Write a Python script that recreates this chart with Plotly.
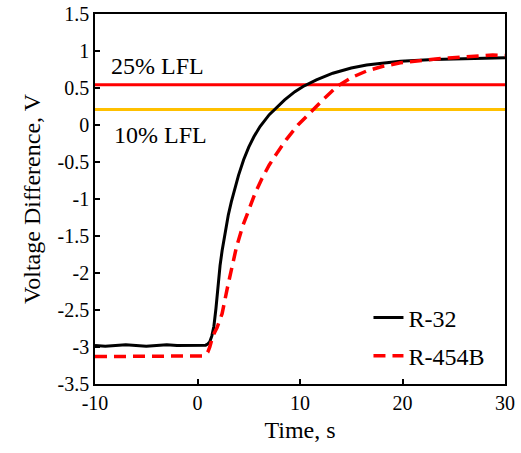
import plotly.graph_objects as go

# R-32 series
t_r32 = [-10, -9, -8, -7, -6, -5, -4, -3, -2, -1, 0, 0.5, 0.8, 1.0, 1.2, 1.4, 1.6, 1.8,
         2.0, 2.2, 2.4, 2.7, 3.0, 3.3, 3.6, 4.0, 4.5, 5.0, 5.5, 6.1, 7.0, 7.5, 8.5, 9.5,
         10.3, 11.6, 13.2, 15, 16.5, 18, 19.8, 23, 26, 30]
v_r32 = [-2.98, -2.99, -2.98, -2.97, -2.98, -2.99, -2.98, -2.97, -2.98, -2.98, -2.98, -2.98,
         -2.975, -2.96, -2.93, -2.85, -2.72, -2.48, -2.15, -1.9, -1.7, -1.45, -1.22, -1.04,
         -0.87, -0.68, -0.47, -0.3, -0.16, -0.02, 0.14, 0.21, 0.34, 0.45, 0.52, 0.61, 0.7,
         0.77, 0.81, 0.835, 0.86, 0.885, 0.9, 0.91]

# R-454B series
t_r454b = [-10, -9, -8, -7, -6, -5, -4, -3, -2, -1, 0, 0.5, 0.8, 1.0, 1.2, 1.5, 1.9, 2.4,
           2.9, 3.3, 3.8, 4.4, 5.0, 5.6, 6.3, 7.0, 7.8, 8.7, 9.8, 11.1, 12.3, 13.6, 15, 16.5,
           18, 19.8, 21.5, 23, 24.5, 26.3, 28, 28.8, 30]
v_r454b = [-3.13, -3.13, -3.12, -3.13, -3.13, -3.12, -3.13, -3.12, -3.13, -3.12, -3.13, -3.12,
           -3.1, -3.07, -3.0, -2.85, -2.74, -2.55, -2.21, -1.96, -1.65, -1.37, -1.14, -0.93,
           -0.72, -0.54, -0.37, -0.19, 0.0, 0.19, 0.35, 0.52, 0.64, 0.73, 0.79, 0.84, 0.87,
           0.89, 0.905, 0.92, 0.935, 0.945, 0.94]

# LFL threshold levels
lfl_x = [-10, 30]
lfl25 = 0.545
lfl10 = 0.21

x_ticks = [-10, 0, 10, 20, 30]
y_ticks = [1.5, 1, 0.5, 0, -0.5, -1, -1.5, -2, -2.5, -3, -3.5]

FONT = "Liberation Serif"

fig = go.Figure()
fig.add_trace(go.Scatter(x=lfl_x, y=[lfl25, lfl25], mode="lines",
                         line=dict(color="#FF0000", width=3), showlegend=False, hoverinfo="skip"))
fig.add_trace(go.Scatter(x=lfl_x, y=[lfl10, lfl10], mode="lines",
                         line=dict(color="#FFC000", width=3), showlegend=False, hoverinfo="skip"))
fig.add_trace(go.Scatter(x=t_r32, y=v_r32, mode="lines", name="R-32", legendgroup="a",
                         line=dict(color="black", width=3)))
fig.add_trace(go.Scatter(x=t_r454b, y=v_r454b, mode="lines", name="R-454B", legendgroup="b",
                         line=dict(color="#FF0000", width=3.5, dash="12px,7px")))

fig.add_annotation(x=-8.6, y=0.8, text="25% LFL", showarrow=False, xanchor="left",
                   font=dict(size=24, color="black", family=FONT))
fig.add_annotation(x=-8.3, y=-0.13, text="10% LFL", showarrow=False, xanchor="left",
                   font=dict(size=24, color="black", family=FONT))

axis_common = dict(showgrid=False, zeroline=False, showline=True, mirror=True,
                   linecolor="black", linewidth=1.5, ticks="inside", ticklen=5,
                   tickcolor="black", tickwidth=1.5, automargin=False,
                   ticklabeloverflow="allow",
                   tickfont=dict(size=20, family=FONT, color="black"))

fig.update_xaxes(range=[-10, 30], tickvals=x_ticks, ticktext=[str(v) for v in x_ticks],
                 title=dict(text="Time, s", font=dict(size=24, family=FONT, color="black"),
                            standoff=8),
                 **axis_common)
fig.update_yaxes(range=[-3.5, 1.5], tickvals=y_ticks, ticktext=[f"{v:g}" for v in y_ticks],
                 title=dict(text="Voltage Difference, V",
                            font=dict(size=24, family=FONT, color="black"), standoff=10),
                 **axis_common)

fig.update_layout(
    width=521, height=453,
    margin=dict(l=95, r=16, t=14, b=69),
    plot_bgcolor="white", paper_bgcolor="white",
    font=dict(family=FONT, color="black"),
    legend=dict(x=0.667, y=0.127, xanchor="left", yanchor="middle",
                bgcolor="rgba(0,0,0,0)", tracegroupgap=4,
                font=dict(size=24, family=FONT, color="black")),
)

fig.write_html("out.html", config={"displayModeBar": False},
               post_script="document.body.style.margin='0';document.body.style.overflow='hidden';")
